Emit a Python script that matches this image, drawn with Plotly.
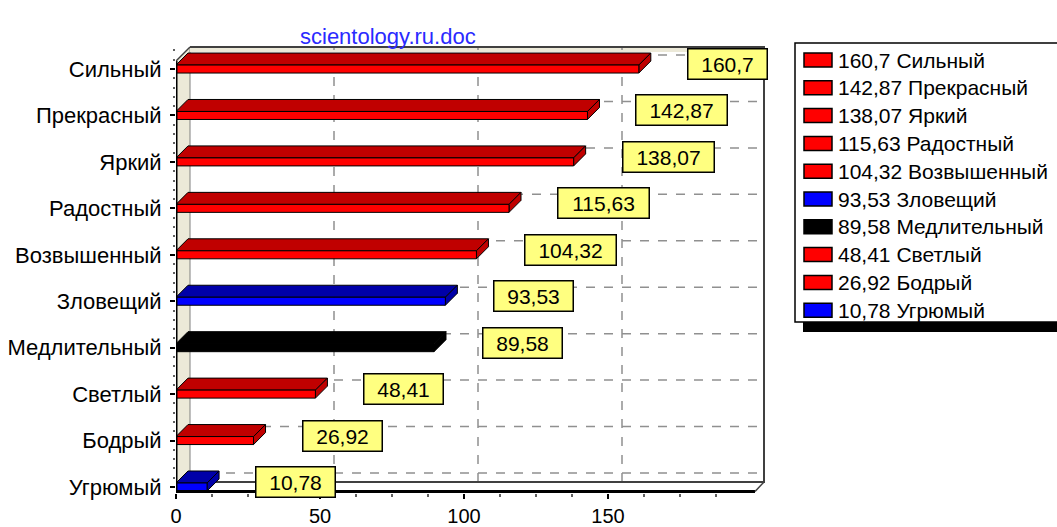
import plotly.graph_objects as go

# ---- data (bottom to top) ----
categories = ["Угрюмый", "Бодрый", "Светлый", "Медлительный", "Зловещий",
              "Возвышенный", "Радостный", "Яркий", "Прекрасный", "Сильный"]
values = [10.78, 26.92, 48.41, 89.58, 93.53, 104.32, 115.63, 138.07, 142.87, 160.7]
bar_colors = ["blue", "red", "red", "black", "blue", "red", "red", "red", "red", "red"]
x_tick_vals = [0, 50, 100, 150]
title_text = "scientology.ru.doc"

FRONT = {"red": "#FF0000", "blue": "#0000FF", "black": "#000000"}
TOP = {"red": "#C00000", "blue": "#0000A8", "black": "#000000"}

W, H = 1057, 527
L_PX, R_PX, T_PX, B_PX = 176, 765, 45, 493
PX_PER_X = 2.88
X_MAX = (R_PX - L_PX) / PX_PER_X
K0_PX, K_STEP = 487, 46.44
Y_MIN = (K0_PX - B_PX) / K_STEP
Y_MAX = (K0_PX - T_PX) / K_STEP


def dx(px):
    return px / PX_PER_X


def dy(px):
    return px / K_STEP


def pxx(px):  # pixel -> paper x
    return (px - L_PX) / (R_PX - L_PX)


def pxy(py):  # pixel -> paper y
    return (B_PX - py) / (B_PX - T_PX)


def fmt(v):
    return ("%g" % v).replace(".", ",")


FONT = "Arial, Liberation Sans, sans-serif"
fig = go.Figure()
shapes = []
annotations = []

# ---- walls ----
WALL_DX, WALL_DY = dx(14), dy(14)
FLOOR_DX, FLOOR_DY = dx(10), dy(11)
back_left = WALL_DX
back_bottom = Y_MIN + FLOOR_DY
top = Y_MAX - dy(2)

# left wall (beige)
shapes.append(dict(type="path", xref="x", yref="y", layer="below",
                   path=f"M 0 {Y_MIN} L {back_left} {back_bottom} L {back_left} {top} "
                        f"L 0 {top - WALL_DY} Z",
                   fillcolor="#ECE9D8", line=dict(color="#808080", width=1)))
# thin beige strip along top
shapes.append(dict(type="rect", xref="x", yref="y", layer="below",
                   x0=back_left, x1=X_MAX, y0=top - dy(5), y1=top,
                   fillcolor="#ECE9D8", line=dict(width=0)))

# back wall gridlines
for v in x_tick_vals[1:]:
    shapes.append(dict(type="line", xref="x", yref="y", layer="below",
                       x0=v + WALL_DX, x1=v + WALL_DX, y0=back_bottom, y1=top,
                       line=dict(color="#909090", width=1.5, dash="dash")))
for k in range(len(categories)):
    shapes.append(dict(type="line", xref="x", yref="y", layer="below",
                       x0=back_left, x1=X_MAX, y0=k + WALL_DY, y1=k + WALL_DY,
                       line=dict(color="#909090", width=1.5, dash="dash")))

# back wall frame
shapes.append(dict(type="line", xref="x", yref="y", layer="below",
                   x0=back_left, x1=X_MAX, y0=top, y1=top,
                   line=dict(color="#404040", width=2)))
shapes.append(dict(type="line", xref="x", yref="y", layer="below",
                   x0=X_MAX - dx(1), x1=X_MAX - dx(1), y0=back_bottom, y1=top,
                   line=dict(color="#404040", width=2)))
shapes.append(dict(type="line", xref="x", yref="y", layer="below",
                   x0=back_left, x1=X_MAX, y0=back_bottom, y1=back_bottom,
                   line=dict(color="#404040", width=2)))

# ---- bars ----
HF = dy(4)
BDX, BDY = dx(12), dy(12)
for k, (cat, v, c) in enumerate(zip(categories, values, bar_colors)):
    yb, yt = k - HF, k + HF
    # top face
    fig.add_trace(go.Scatter(
        x=[0, v, v + BDX, BDX, 0], y=[yt, yt, yt + BDY, yt + BDY, yt],
        fill="toself", fillcolor=TOP[c], mode="lines",
        line=dict(color="black", width=1), hoverinfo="skip", showlegend=False))
    # right end face
    fig.add_trace(go.Scatter(
        x=[v, v + BDX, v + BDX, v, v], y=[yb, yb + BDY, yt + BDY, yt, yb],
        fill="toself", fillcolor=TOP[c], mode="lines",
        line=dict(color="black", width=1), hoverinfo="skip", showlegend=False))
    # front face
    fig.add_trace(go.Scatter(
        x=[0, v, v, 0, 0], y=[yb, yb, yt, yt, yb],
        fill="toself", fillcolor=FRONT[c], mode="lines",
        line=dict(color="black", width=1), hoverinfo="skip", showlegend=False,
        name=cat))
    # value label
    txt = fmt(v)
    annotations.append(dict(
        x=v + dx(48), y=k + dy(5), xref="x", yref="y", xanchor="left", yanchor="middle",
        text=txt, showarrow=False, font=dict(family=FONT, size=21, color="black"),
        bgcolor="#FFFF80", bordercolor="black", borderwidth=1.5, borderpad=3,
        width=len(txt) * 12 + 12, height=23))

# ---- front frame ----
shapes.append(dict(type="line", xref="x", yref="y", layer="above",
                   x0=0, x1=X_MAX - FLOOR_DX, y0=Y_MIN + dy(1.5), y1=Y_MIN + dy(1.5),
                   line=dict(color="black", width=3)))
shapes.append(dict(type="line", xref="x", yref="y", layer="above",
                   x0=X_MAX - FLOOR_DX, x1=X_MAX - dx(1), y0=Y_MIN + dy(1.5), y1=back_bottom,
                   line=dict(color="#404040", width=1.5)))
shapes.append(dict(type="line", xref="x", yref="y", layer="above",
                   x0=0, x1=0, y0=Y_MIN, y1=top - WALL_DY,
                   line=dict(color="black", width=3)))
shapes.append(dict(type="line", xref="x", yref="y", layer="above",
                   x0=0, x1=back_left, y0=top - WALL_DY, y1=top,
                   line=dict(color="#404040", width=1.5)))

# ---- title ----
annotations.append(dict(x=pxx(388), y=pxy(22), xref="paper", yref="paper",
                        text=title_text, showarrow=False,
                        font=dict(family=FONT, size=22, color="#2A2AFF")))

# ---- legend (custom) ----
LG_L, LG_R, LG_T, LG_B = 795, 1062, 43, 322
shapes.append(dict(type="rect", xref="paper", yref="paper",
                   x0=pxx(LG_L + 8), x1=pxx(LG_R + 8), y0=pxy(LG_T + 8), y1=pxy(LG_B + 10),
                   fillcolor="black", line=dict(width=0)))
shapes.append(dict(type="rect", xref="paper", yref="paper",
                   x0=pxx(LG_L), x1=pxx(LG_R), y0=pxy(LG_T), y1=pxy(LG_B),
                   fillcolor="white", line=dict(color="black", width=1.5)))
order = list(range(len(categories)))[::-1]
for i, k in enumerate(order):
    cy = 60 + 27.8 * i
    shapes.append(dict(type="rect", xref="paper", yref="paper",
                       x0=pxx(804), x1=pxx(832), y0=pxy(cy - 7), y1=pxy(cy + 7),
                       fillcolor=FRONT[bar_colors[k]], line=dict(color="black", width=1.5)))
    annotations.append(dict(x=pxx(836), y=pxy(cy), xref="paper", yref="paper",
                            xanchor="left", yanchor="middle", showarrow=False,
                            text=f"{fmt(values[k])} {categories[k]}",
                            font=dict(family=FONT, size=21, color="black")))

fig.update_layout(
    width=W, height=H,
    margin=dict(l=L_PX, r=W - R_PX, t=T_PX, b=H - B_PX, pad=0, autoexpand=False),
    paper_bgcolor="white", plot_bgcolor="white",
    font=dict(family=FONT, size=22, color="black"),
    showlegend=False,
    shapes=shapes, annotations=annotations,
    xaxis=dict(range=[0, X_MAX], tickvals=x_tick_vals, ticks="outside", ticklen=5,
               tickwidth=1.5, tickcolor="black", showgrid=False, zeroline=False,
               showline=False, tickfont=dict(size=20), ticklabelstandoff=0,
               automargin=False,
               minor=dict(tickvals=[12.5 * i for i in range(1, 16)], ticks="outside",
                          ticklen=3, tickcolor="#606060")),
    yaxis=dict(range=[Y_MIN, Y_MAX], tickvals=list(range(len(categories))),
               ticktext=categories, ticks="outside", ticklen=5, tickwidth=1.5,
               tickcolor="black", showgrid=False, zeroline=False, showline=False,
               tickfont=dict(size=22), ticklabelstandoff=4, automargin=False,
               minor=dict(dtick=0.2, ticks="outside", ticklen=2, tickcolor="#606060")),
)

fig.write_html("out.html", config={"displayModeBar": False},
               post_script="document.body.style.margin='0';document.body.style.overflow='hidden';")
